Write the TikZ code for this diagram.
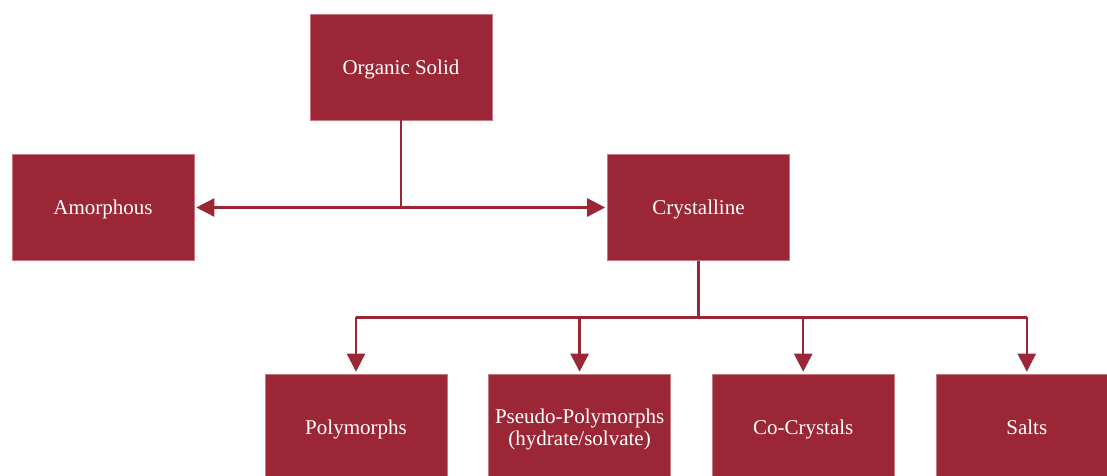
\documentclass[tikz,border=0pt]{standalone}
\usepackage{fontspec}
\setmainfont{Liberation Serif}
\usetikzlibrary{arrows.meta, positioning, calc}
\definecolor{solidred}{RGB}{155,39,54}
\definecolor{edgered}{RGB}{200,120,130}

\begin{document}
\begin{tikzpicture}[
        x=1pt, y=1pt,
        node distance=41pt,
        block/.style={rectangle, draw=edgered, fill=solidred, line width=0.6pt, minimum width=182pt, minimum height=106pt, align=center, text=white, text depth=0pt, font=\fontsize{21}{22}\selectfont},
        link/.style={solidred, line width=2.5pt},
        arrow/.style={link, -{Triangle[length=18pt, width=18pt]}, shorten >=2pt}
    ]
        \useasboundingbox (0,0) rectangle (1107,-475);

        % Top levels
        \node[block] (org) at (401,-67) {Organic Solid};
        \node[block] (amo) at (103,-207.5) {Amorphous};
        \node[block] (cry) at (698.5,-207.5) {Crystalline};

        % Bottom row
        \node[block] (poly) at (356,-427) {Polymorphs};
        \node[block, right=of poly] (pseudo) {Pseudo-Polymorphs\\(hydrate/solvate)};
        \node[block, right=of pseudo] (cocr) {Co-Crystals};
        \node[block, right=of cocr] (salt) {Salts};

        % Organic solid split
        \coordinate (split1) at (org.south |- amo.east);
        \draw[link] (org.south) -- (split1);
        \draw[arrow] (split1) -- (amo.east);
        \draw[arrow] (split1) -- (cry.west);

        % Crystalline split
        \coordinate (split2) at ($(cry.south)!0.5!(cry.south |- poly.north)$);
        \draw[link] (cry.south) -- (split2);
        \draw[link] (split2 -| poly.north) -- (split2 -| salt.north);
        \draw[arrow] (split2 -| poly.north) -- (poly.north);
        \draw[arrow] (split2 -| pseudo.north) -- (pseudo.north);
        \draw[arrow] (split2 -| cocr.north) -- (cocr.north);
        \draw[arrow] (split2 -| salt.north) -- (salt.north);

\end{tikzpicture}
\end{document}
